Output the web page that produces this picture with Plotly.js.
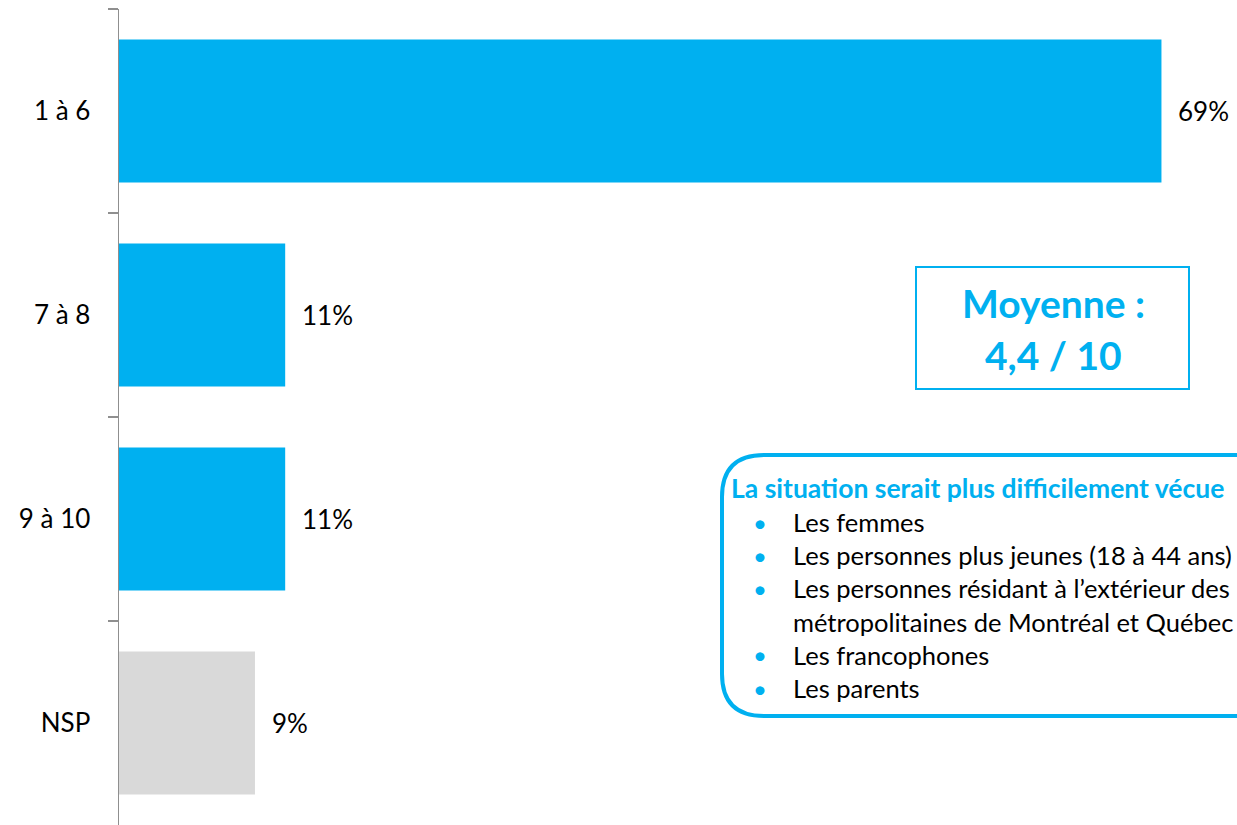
<!DOCTYPE html>
<html>
<head>
<meta charset="utf-8">
<script src="https://cdn.plot.ly/plotly-3.0.1.min.js"></script>
<style>html,body{margin:0;padding:0;background:#fff;overflow:hidden}#chart{width:1237px;height:825px}</style>
</head>
<body>
<div id="chart"></div>
<script>
// ---- data ----
const categories = ['1 à 6', '7 à 8', '9 à 10', 'NSP'];
const values = [69, 11, 11, 9];
const valueLabels = ['69%', '11%', '11%', '9%'];
const averageLines = ['Moyenne :', '4,4 / 10'];
const boxTitle = 'La situation serait plus difficilement vécue';
const boxItems = [
  ['Les femmes'],
  ['Les personnes plus jeunes (18 à 44 ans)'],
  ['Les personnes résidant à l’extérieur des', 'métropolitaines de Montréal et Québec'],
  ['Les francophones'],
  ['Les parents']
];

// ---- layout helpers ----
const W = 1237, H = 825;
const ML = 119, MR = 0, MT = 9, MB = 0;
const PW = W - ML - MR, PH = H - MT - MB;
const px = v => (v - ML) / PW;
const py = v => (H - MB - v) / PH;
const BLUE = '#00B0F0';
const FONT = 'Lato, "Open Sans", sans-serif';

const trace = {
  type: 'bar',
  orientation: 'h',
  y: categories,
  x: values,
  width: 0.7,
  marker: {color: categories.map(c => c === 'NSP' ? '#D9D9D9' : BLUE)},
  hoverinfo: 'none'
};

const annotations = [];
categories.forEach((c, i) => {
  annotations.push({
    x: values[i], y: c, xref: 'x', yref: 'y',
    text: valueLabels[i], showarrow: false,
    xanchor: 'left', yanchor: 'middle', xshift: 15,
    font: {family: FONT, size: 26, color: '#000'}
  });
});

// average box
averageLines.forEach((t, i) => {
  annotations.push({
    x: px(1053), y: py(303 + i * 52), xref: 'paper', yref: 'paper',
    text: '<b>' + t + '</b>', showarrow: false,
    xanchor: 'center', yanchor: 'middle',
    font: {family: FONT, size: 39, color: BLUE}
  });
});

// list box
annotations.push({
  x: px(729), y: py(488), xref: 'paper', yref: 'paper',
  text: '<b>' + boxTitle + '</b>', showarrow: false,
  xanchor: 'left', yanchor: 'middle',
  font: {family: FONT, size: 26.5, color: BLUE}
});
let line = 0;
boxItems.forEach(item => {
  item.forEach((t, j) => {
    const yy = 522 + line * 33.2;
    if (j === 0) {
      annotations.push({
        x: px(760), y: py(yy), xref: 'paper', yref: 'paper',
        text: '•', showarrow: false, xanchor: 'center', yanchor: 'middle',
        font: {family: FONT, size: 24, color: BLUE}
      });
    }
    annotations.push({
      x: px(791), y: py(yy), xref: 'paper', yref: 'paper',
      text: t, showarrow: false, xanchor: 'left', yanchor: 'middle',
      font: {family: FONT, size: 25.5, color: '#000'}
    });
    line++;
  });
});

// rounded box path in paper coords
const bx0 = 722, by0 = 455, bx1 = 1290, by1 = 716, r = 42;
const P = (x, y) => px(x) + ',' + py(y);
const roundPath = 'M ' + P(bx0 + r, by0) + ' L ' + P(bx1, by0) + ' L ' + P(bx1, by1) +
  ' L ' + P(bx0 + r, by1) + ' Q ' + P(bx0, by1) + ' ' + P(bx0, by1 - r) +
  ' L ' + P(bx0, by0 + r) + ' Q ' + P(bx0, by0) + ' ' + P(bx0 + r, by0) + ' Z';

const shapes = [
  {type: 'rect', xref: 'paper', yref: 'paper', x0: px(916), x1: px(1189), y0: py(267), y1: py(389),
   line: {color: BLUE, width: 2}, fillcolor: 'rgba(0,0,0,0)'},
  {type: 'path', xref: 'paper', yref: 'paper', path: roundPath,
   line: {color: BLUE, width: 4}, fillcolor: 'rgba(0,0,0,0)'}
];

const layout = {
  width: W, height: H,
  margin: {l: ML, r: MR, t: MT, b: MB, pad: 0},
  paper_bgcolor: '#fff', plot_bgcolor: '#fff',
  showlegend: false,
  xaxis: {range: [0, 74], visible: false, fixedrange: true},
  yaxis: {
    type: 'category', categoryorder: 'array', categoryarray: categories,
    range: [3.5, -0.5], showgrid: false, zeroline: false,
    showline: true, linecolor: '#8f8f8f', linewidth: 1.5,
    ticks: 'outside', ticklen: 10, tickwidth: 1.5, tickcolor: '#8f8f8f',
    tickson: 'boundaries', ticklabelstandoff: 22,
    tickfont: {family: FONT, size: 26, color: '#000'}, fixedrange: true
  },
  annotations: annotations,
  shapes: shapes
};

Plotly.newPlot('chart', [trace], layout, {displayModeBar: false, staticPlot: true});
</script>
</body>
</html>
